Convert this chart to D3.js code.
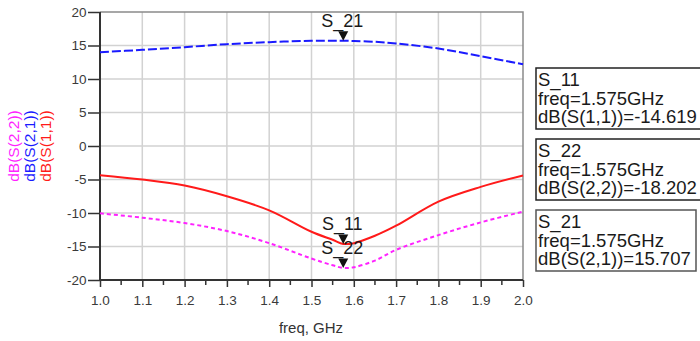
<!DOCTYPE html>
<html>
<head>
<meta charset="utf-8">
<script src="https://cdn.jsdelivr.net/npm/d3@7"></script>
<style>
  body { margin: 0; background: #fff; }
  svg { display: block; font-family: "Liberation Sans", Arial, sans-serif; }
</style>
</head>
<body>
<div id="chart-area"></div>
<script>
const MARGIN = { LEFT: 100, RIGHT: 177, TOP: 12, BOTTOM: 61 }
const WIDTH = 700 - MARGIN.LEFT - MARGIN.RIGHT
const HEIGHT = 341 - MARGIN.TOP - MARGIN.BOTTOM

// data (freq in GHz, values in dB)
const freq = [1.0, 1.1, 1.2, 1.3, 1.4, 1.5, 1.55, 1.575, 1.6, 1.65, 1.7, 1.8, 1.9, 2.0]
const s11 = [-4.35, -5.0, -5.9, -7.5, -9.6, -12.8, -14.0, -14.619, -14.5, -13.4, -11.9, -8.3, -6.1, -4.4]
const s22 = [-10.05, -10.7, -11.5, -12.7, -14.5, -16.8, -17.8, -18.202, -18.1, -17.1, -15.5, -13.3, -11.4, -9.8]
const s21 = [14.0, 14.35, 14.75, 15.2, 15.5, 15.7, 15.72, 15.707, 15.68, 15.55, 15.3, 14.55, 13.4, 12.2]

const xTicks = [1.0, 1.1, 1.2, 1.3, 1.4, 1.5, 1.6, 1.7, 1.8, 1.9, 2.0]
const yTicks = [-20, -15, -10, -5, 0, 5, 10, 15, 20]

const markerFreq = 1.575
const markers = [
  { name: "S_21", value: 15.707, expr: "dB(S(2,1))" },
  { name: "S_11", value: -14.619, expr: "dB(S(1,1))" },
  { name: "S_22", value: -18.202, expr: "dB(S(2,2))" }
]
// order of the readout boxes on the right
const boxOrder = ["S_11", "S_22", "S_21"]

const series = [
  { name: "dB(S(2,1))", values: s21, color: "#1a1aff", dash: "9,3" },
  { name: "dB(S(1,1))", values: s11, color: "#ff1a1a", dash: null },
  { name: "dB(S(2,2))", values: s22, color: "#ff22ff", dash: "4,3" }
]

const svg = d3.select("#chart-area").append("svg")
  .attr("width", 700)
  .attr("height", 341)

const g = svg.append("g")
  .attr("transform", `translate(${MARGIN.LEFT}, ${MARGIN.TOP})`)

const x = d3.scaleLinear().domain([1.0, 2.0]).range([0, WIDTH])
const y = d3.scaleLinear().domain([-20, 20]).range([HEIGHT, 0])

// grid
g.append("g").selectAll("line")
  .data(xTicks.slice(1, -1))
  .join("line")
  .attr("x1", d => x(d)).attr("x2", d => x(d))
  .attr("y1", 0).attr("y2", HEIGHT)
  .attr("stroke", "#d2d2d2").attr("stroke-width", 1.5)

g.append("g").selectAll("line")
  .data(yTicks.slice(1, -1))
  .join("line")
  .attr("x1", 0).attr("x2", WIDTH)
  .attr("y1", d => y(d)).attr("y2", d => y(d))
  .attr("stroke", "#d2d2d2").attr("stroke-width", 1.5)

// top / right frame
g.append("path")
  .attr("d", `M0,0H${WIDTH}V${HEIGHT}`)
  .attr("fill", "none")
  .attr("stroke", "#8a8a8a")
  .attr("stroke-width", 1.5)

// axes
const xAxisCall = d3.axisBottom(x)
  .tickValues(xTicks)
  .tickSize(7)
  .tickFormat(d3.format(".1f"))
const yAxisCall = d3.axisLeft(y)
  .tickValues(yTicks)
  .tickSize(12)
  .tickFormat(d => String(d))   // plain hyphen, like the original

const xAxis = g.append("g")
  .attr("class", "x axis")
  .attr("transform", `translate(0, ${HEIGHT})`)
  .call(xAxisCall)

// minor ticks on x
xAxis.append("g").selectAll("line")
  .data(d3.range(10).map(i => 1.05 + i * 0.1))
  .join("line")
  .attr("x1", d => x(d)).attr("x2", d => x(d))
  .attr("y1", 0).attr("y2", 5)
  .attr("stroke", "#333")
  .attr("stroke-width", 1.5)

const yAxis = g.append("g")
  .attr("class", "y axis")
  .call(yAxisCall)

svg.selectAll(".axis .domain").attr("stroke", "#333").attr("stroke-width", 2)
svg.selectAll(".axis .tick line").attr("stroke", "#333").attr("stroke-width", 1.5)
svg.selectAll(".axis text")
  .attr("fill", "#3a3a3a")
  .attr("font-size", "13.5px")
  .attr("font-family", "Liberation Sans, Arial, sans-serif")
xAxis.selectAll(".tick text").attr("dy", "1.1em")
yAxis.selectAll(".tick text").attr("x", -13.5)
xAxis.select(".domain").attr("d", `M0,0H${WIDTH}`)
yAxis.select(".domain").attr("d", `M0,${HEIGHT}V0`)

// curves
const line = d3.line()
  .x((d, i) => x(freq[i]))
  .y(d => y(d))
  .curve(d3.curveCatmullRom.alpha(0.5))

g.append("g").selectAll("path")
  .data(series)
  .join("path")
  .attr("d", d => line(d.values))
  .attr("fill", "none")
  .attr("stroke", d => d.color)
  .attr("stroke-width", 2)
  .attr("stroke-dasharray", d => d.dash)

// markers
const mk = g.append("g").selectAll("g")
  .data(markers)
  .join("g")
  .attr("transform", d => `translate(${x(markerFreq)}, ${y(d.value)})`)

mk.append("path")
  .attr("d", "M-5,-9.5L5,-9.5L0,0Z")
  .attr("fill", "#111")

mk.append("text")
  .attr("x", -1)
  .attr("y", -14)
  .attr("text-anchor", "middle")
  .attr("font-size", "18px")
  .attr("fill", "#1a1a1a")
  .text(d => d.name)

// Y label (three coloured rotated texts)
const yLabelCols = [
  { s: series[2], x: 19 },
  { s: series[0], x: 35 },
  { s: series[1], x: 51 }
]
svg.append("g").selectAll("text")
  .data(yLabelCols)
  .join("text")
  .attr("transform", d => `translate(${d.x}, ${MARGIN.TOP + y(0)}) rotate(-90)`)
  .attr("text-anchor", "middle")
  .attr("font-size", "15.5px")
  .attr("fill", d => d.s.color)
  .text(d => d.s.name)

// X label
g.append("text")
  .attr("x", 211)
  .attr("y", HEIGHT + 53)
  .attr("text-anchor", "middle")
  .attr("font-size", "15px")
  .attr("fill", "#333")
  .text("freq, GHz")

// readout boxes
const fmtVal = v => v.toFixed(3)
const boxTop = [68, 139, 210]
const boxW = [200, 200, 160]
const box = svg.append("g").selectAll("g")
  .data(boxOrder.map(n => markers.find(m => m.name === n)))
  .join("g")
  .attr("transform", (d, i) => `translate(536, ${boxTop[i]})`)

box.append("rect")
  .attr("width", (d, i) => boxW[i])
  .attr("height", 61)
  .attr("fill", "#fff")
  .attr("stroke", (d, i) => i === 2 ? "#555" : "#222")
  .attr("stroke-width", 1.5)

box.selectAll("text")
  .data(d => [d.name, `freq=${markerFreq}GHz`, `${d.expr}=${fmtVal(d.value)}`])
  .join("text")
  .attr("x", 2)
  .attr("y", (d, i) => 18 + i * 18.6)
  .attr("font-size", "18.5px")
  .attr("fill", "#1a1a1a")
  .text(d => d)
</script>
</body>
</html>
